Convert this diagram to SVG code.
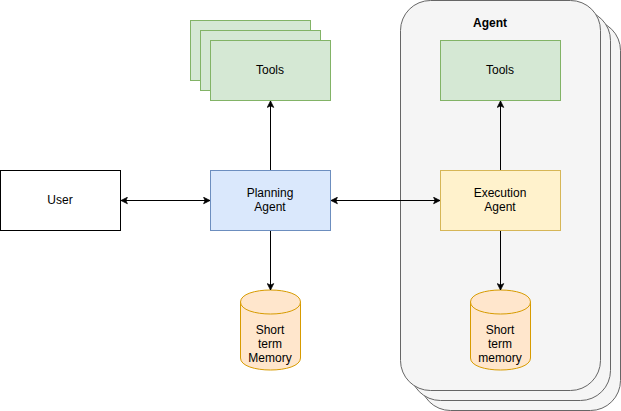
<svg xmlns="http://www.w3.org/2000/svg" width="621" height="411" viewBox="0 0 621 411">
<defs>
<style>
text{font-family:"Liberation Sans",Arial,Helvetica,sans-serif;font-size:12px;fill:#000;text-anchor:middle}
.tools{fill:#d5e8d4;stroke:#82b366;stroke-width:1}
.cont{fill:#f5f5f5;stroke:#666666;stroke-width:1}
.mem{fill:#ffe6cc;stroke:#d79b00;stroke-width:1}
.edge{fill:none;stroke:#000;stroke-width:1}
</style>
<marker id="ah" viewBox="0 0 10 10" refX="9" refY="5" markerWidth="8" markerHeight="8" markerUnits="userSpaceOnUse" orient="auto-start-reverse">
<path d="M1,1 L9,5 L1,9 L3,5 Z" fill="#000" stroke="#000" stroke-width="1"/>
</marker>
</defs>
<rect width="621" height="411" fill="#fff"/>
<g id="agent-container">
<rect class="cont" x="420.5" y="20.5" width="200" height="390" rx="30" ry="30"/>
<rect class="cont" x="410.5" y="10.5" width="200" height="390" rx="30" ry="30"/>
<rect class="cont" x="400.5" y="0.5" width="200" height="390" rx="30" ry="30"/>
<text x="490" y="27" style="font-weight:bold">Agent</text>
</g>
<g id="tools-planning">
<rect class="tools" x="190.5" y="20.5" width="120" height="60"/>
<rect class="tools" x="200.5" y="30.5" width="120" height="60"/>
<rect class="tools" x="210.5" y="40.5" width="120" height="60"/>
<text x="270" y="74">Tools</text>
</g>
<g id="tools-agent">
<rect class="tools" x="440.5" y="40.5" width="120" height="60"/>
<text x="500" y="74">Tools</text>
</g>
<g id="user">
<rect x="0.5" y="170.5" width="120" height="60" fill="#fff" stroke="#000"/>
<text x="60" y="204">User</text>
</g>
<g id="planning-agent">
<rect x="210.5" y="170.5" width="120" height="60" fill="#dae8fc" stroke="#6c8ebf"/>
<text x="270" y="197">Planning</text>
<text x="270" y="211">Agent</text>
</g>
<g id="execution-agent">
<rect x="440.5" y="170.5" width="120" height="60" fill="#fff2cc" stroke="#d6b656"/>
<text x="500" y="197">Execution</text>
<text x="500" y="211">Agent</text>
</g>
<g id="memory-planning">
<path class="mem" d="M240.5,302 C240.5,286 300.5,286 300.5,302 L300.5,358 C300.5,374 240.5,374 240.5,358 Z"/>
<path class="mem" fill="none" d="M240.5,302 C240.5,318 300.5,318 300.5,302"/>
<text x="270" y="334">Short</text>
<text x="270" y="348">term</text>
<text x="270" y="362">Memory</text>
</g>
<g id="memory-agent">
<path class="mem" d="M470.5,302 C470.5,286 530.5,286 530.5,302 L530.5,358 C530.5,374 470.5,374 470.5,358 Z"/>
<path class="mem" fill="none" d="M470.5,302 C470.5,318 530.5,318 530.5,302"/>
<text x="500" y="334">Short</text>
<text x="500" y="348">term</text>
<text x="500" y="362">memory</text>
</g>
<g id="connectors">
<line class="edge" x1="121" y1="200.5" x2="210" y2="200.5" marker-start="url(#ah)" marker-end="url(#ah)"/>
<line class="edge" x1="331" y1="200.5" x2="440" y2="200.5" marker-start="url(#ah)" marker-end="url(#ah)"/>
<line class="edge" x1="270.5" y1="170" x2="270.5" y2="101" marker-end="url(#ah)"/>
<line class="edge" x1="270.5" y1="231" x2="270.5" y2="290" marker-end="url(#ah)"/>
<line class="edge" x1="500.5" y1="170" x2="500.5" y2="101" marker-end="url(#ah)"/>
<line class="edge" x1="500.5" y1="231" x2="500.5" y2="290" marker-end="url(#ah)"/>
</g>
</svg>
